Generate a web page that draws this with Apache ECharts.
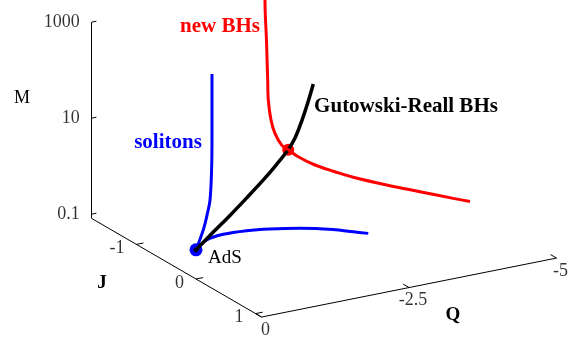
<!DOCTYPE html>
<html>
<head>
<meta charset="utf-8">
<script src="https://cdn.jsdelivr.net/npm/echarts@6/dist/echarts.min.js"></script>
<style>
  html, body { margin: 0; padding: 0; background: #fff; }
  #main { width: 582px; height: 345px; }
</style>
</head>
<body>
<div id="main"></div>
<script>
// tick values of the three axes
var mTicks = [0.1, 10, 1000];
var jTicks = [-1, 0, 1];
var qTicks = [0, -2.5, -5];
var qTickLabels = ['0', '-2.5', '-5'];

// AdS point  (Q, J, M)
var adsQ = 0, adsJ = 0, adsM = 0.33;

// Gutowski-Reall BHs
var grQ = [0, -0.234, -0.46, -0.686, -0.911, -1.092, -1.249, -1.34, -1.43, -1.52, -1.587];
var grJ = [0, 0.059, 0.115, 0.172, 0.228, 0.273, 0.312, 0.335, 0.358, 0.38, 0.397];
var grM = [0.33, 0.745, 1.6, 3.59, 8.2, 16.9, 33.6, 57.5, 128, 330, 738];

// new BHs
var nbQ = [-0.856, -0.856, -0.881, -0.902, -0.912, -0.958, -1.025, -1.139, -1.251, -1.42, -1.703, -2.042, -2.353, -2.919, -3.483, -4.047, -4.331];
var nbJ = [0.31, 0.31, 0.31, 0.31, 0.31, 0.31, 0.31, 0.31, 0.31, 0.31, 0.31, 0.31, 0.31, 0.31, 0.31, 0.31, 0.31];
var nbM = [110000, 54000, 7850, 1140, 435, 162, 82, 44, 33, 21.4, 12.3, 7.35, 4.72, 2.36, 1.245, 0.658, 0.482];

// solitons, upper branch
var s1Q = [0, 0, 0, 0, 0, 0, 0, 0];
var s1J = [0, 0.122, 0.193, 0.235, 0.26, 0.268, 0.268, 0.268];
var s1M = [0.33, 1.05, 2.65, 5.3, 20.2, 100, 421, 2370];

// solitons, lower branch
var s2Q = [0, -0.12, -0.307, -0.571, -0.833, -1.171, -1.543, -1.771, -1.94];
var s2J = [0, 0.06, 0.154, 0.286, 0.417, 0.586, 0.772, 0.886, 0.97];
var s2M = [0.33, 0.545, 0.752, 0.96, 1.114, 1.26, 1.31, 1.25, 1.21];

// meeting point of the two black hole families
var crossQ = -1.25, crossJ = 0.31, crossM = 33;

// box of the 3d plot
var jMin = -1.75, jMax = 1.1, qMax = -5, mMin = Math.pow(10, -1.09), mMax = 1000;

// oblique projection of (Q, J, log M) on the page
function proj(q, j, m) {
  var L = Math.log10(m);
  return [196 - 59 * q + 59.6 * j, 279 + 11.8 * q + 34.6 * j - 48 * (L + 1.09)];
}
function curve(qs, js, ms) {
  return qs.map(function (q, i) { return proj(q, js[i], ms[i]); });
}

var serif = '"Liberation Serif", "DejaVu Serif", serif';

var axisLines = [
  { coords: [proj(0, jMin, mMin), proj(0, jMin, mMax)] },
  { coords: [proj(0, jMin, mMin), proj(0, jMax, mMin)] },
  { coords: [proj(0, jMax, mMin), proj(qMax, jMax, mMin)] }
];
mTicks.forEach(function (m) {
  axisLines.push({ coords: [proj(0, jMin, m), proj(-0.08, jMin, m)] });
});
jTicks.forEach(function (j) {
  axisLines.push({ coords: [proj(0, j, mMin), proj(-0.12, j, mMin)] });
});
qTicks.forEach(function (q) {
  axisLines.push({ coords: [proj(q, jMax, mMin), proj(q, jMax - 0.1, mMin)] });
});

var tickLabelStyle = { show: true, formatter: '{b}', color: '#000', fontFamily: serif, fontSize: 18 };

var chartDom = document.getElementById('main');
var myChart = echarts.init(chartDom);
var option;

option = {
  animation: false,
  backgroundColor: '#fff',
  grid: { left: 0, right: 0, top: 0, bottom: 0 },
  xAxis: { type: 'value', min: 0, max: 582, show: false },
  yAxis: { type: 'value', min: 0, max: 345, inverse: true, show: false },
  graphic: [
    { type: 'text', x: 22, y: 98, style: { text: 'M', font: '18px ' + serif, fill: '#000', align: 'center', verticalAlign: 'middle' } },
    { type: 'text', x: 102, y: 283, style: { text: 'J', font: 'bold 19px ' + serif, fill: '#000', align: 'center', verticalAlign: 'middle' } },
    { type: 'text', x: 453, y: 315, style: { text: 'Q', font: 'bold 19px ' + serif, fill: '#000', align: 'center', verticalAlign: 'middle' } },
    { type: 'text', x: 220, y: 27, style: { text: 'new BHs', font: 'bold 21px ' + serif, fill: '#ff0000', align: 'center', verticalAlign: 'middle' } },
    { type: 'text', x: 168, y: 143, style: { text: 'solitons', font: 'bold 21px ' + serif, fill: '#0000ff', align: 'center', verticalAlign: 'middle' } },
    { type: 'text', x: 406, y: 107, style: { text: 'Gutowski-Reall BHs', font: 'bold 21px ' + serif, fill: '#000', align: 'center', verticalAlign: 'middle' } },
    { type: 'text', x: 225, y: 258, style: { text: 'AdS', font: '19px ' + serif, fill: '#000', align: 'center', verticalAlign: 'middle' } }
  ],
  series: [
    {
      type: 'lines',
      coordinateSystem: 'cartesian2d',
      polyline: false,
      silent: true,
      lineStyle: { color: '#000', width: 1, opacity: 1 },
      data: axisLines
    },
    {
      type: 'scatter', symbolSize: 0, silent: true,
      data: mTicks.map(function (m) { return { name: String(m), value: proj(0, jMin, m) }; }),
      label: Object.assign({ position: 'left', distance: 12 }, tickLabelStyle)
    },
    {
      type: 'scatter', symbolSize: 0, silent: true,
      data: jTicks.map(function (j) { return { name: String(j), value: proj(0, j, mMin) }; }),
      label: Object.assign({ position: 'left', distance: 12, offset: [0, 4] }, tickLabelStyle)
    },
    {
      type: 'scatter', symbolSize: 0, silent: true,
      data: qTicks.map(function (q, i) { return { name: qTickLabels[i], value: proj(q, jMax, mMin) }; }),
      label: Object.assign({ position: 'bottom', distance: 4, offset: [4, 0] }, tickLabelStyle)
    },
    {
      type: 'line', data: curve(s2Q, s2J, s2M), smooth: 0.35, showSymbol: false,
      lineStyle: { color: '#0000ff', width: 3 }
    },
    {
      type: 'line', data: curve(s1Q, s1J, s1M), smooth: 0.35, showSymbol: false,
      lineStyle: { color: '#0000ff', width: 3 }
    },
    {
      type: 'line', data: curve(grQ, grJ, grM), smooth: 0.35, showSymbol: false,
      lineStyle: { color: '#000', width: 3.5 }
    },
    {
      type: 'line', data: curve(nbQ, nbJ, nbM), smooth: 0.35, showSymbol: false,
      lineStyle: { color: '#ff0000', width: 3 }
    },
    {
      type: 'scatter', silent: true, symbolSize: 13,
      itemStyle: { color: '#0000ff', opacity: 1 },
      data: [proj(adsQ, adsJ, adsM)]
    },
    {
      type: 'scatter', silent: true, symbolSize: 12,
      itemStyle: { color: '#ff0000', opacity: 1 },
      data: [proj(crossQ, crossJ, crossM)]
    },
    {
      type: 'scatter', silent: true, symbolSize: 5,
      itemStyle: { color: '#000', opacity: 1 },
      data: [proj(adsQ, adsJ, adsM), proj(crossQ, crossJ, crossM)]
    }
  ]
};

option && myChart.setOption(option);
</script>
</body>
</html>
